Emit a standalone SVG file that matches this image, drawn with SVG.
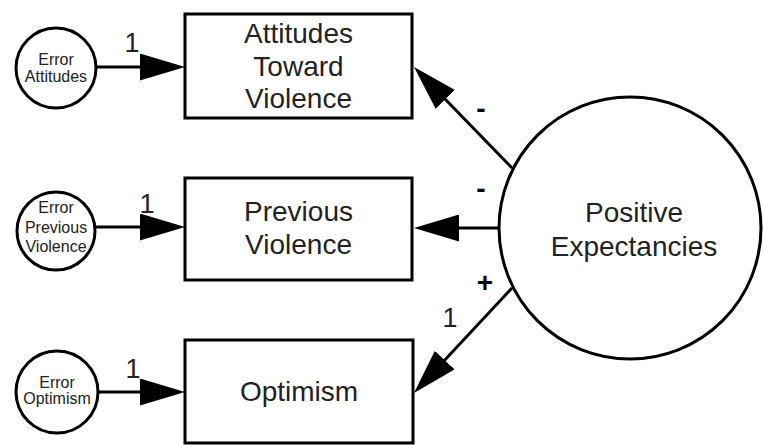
<svg xmlns="http://www.w3.org/2000/svg" width="764" height="445" viewBox="0 0 764 445">
  <style>
    .box { fill: #ffffff; stroke: #000000; stroke-width: 3; }
    .ring { fill: #ffffff; stroke: #000000; stroke-width: 3; }
    .edge { fill: none; stroke: #000000; stroke-width: 3; marker-end: url(#head); }
    .big { font-family: "Liberation Sans", Arial, sans-serif; font-size: 28px; fill: #222222; text-anchor: middle; }
    .small { font-family: "Liberation Sans", Arial, sans-serif; font-size: 16px; fill: #222222; text-anchor: middle; }
    .lbl { font-family: "Liberation Sans", Arial, sans-serif; font-size: 27px; fill: #222222; text-anchor: middle; }
    .sign { font-family: "Liberation Sans", Arial, sans-serif; font-size: 28px; font-weight: bold; fill: #000000; text-anchor: middle; }
  </style>
  <defs>
    <marker id="head" viewBox="0 0 45 27" refX="35" refY="13.5" markerWidth="45" markerHeight="27" markerUnits="userSpaceOnUse" orient="auto">
      <path d="M0,0 L45,13.5 L0,27 z" fill="#000000"/>
    </marker>
  </defs>
  <rect width="764" height="445" fill="#ffffff"/>

  <!-- connectors -->
  <g id="connectors">
    <line class="edge" x1="96" y1="67" x2="175" y2="67"/>
    <line class="edge" x1="96" y1="227" x2="175" y2="227"/>
    <line class="edge" x1="97" y1="392" x2="175" y2="392"/>
    <line class="edge" x1="512" y1="168" x2="420.97" y2="74.18"/>
    <line class="edge" x1="498" y1="228" x2="424" y2="228"/>
    <line class="edge" x1="512" y1="288" x2="420.8" y2="385.7"/>
    <text class="lbl" x="132" y="52">1</text>
    <text class="lbl" x="147" y="213">1</text>
    <text class="lbl" x="133" y="378">1</text>
    <text class="lbl" x="450" y="327">1</text>
    <text class="sign" x="481" y="118">-</text>
    <text class="sign" x="481" y="198">-</text>
    <text class="sign" x="485" y="292">+</text>
  </g>

  <!-- observed variables -->
  <g id="attitudes">
    <rect class="box" x="185" y="14" width="227" height="104"/>
    <text class="big" x="298.5" y="43">Attitudes</text>
    <text class="big" x="298.5" y="76">Toward</text>
    <text class="big" x="298.5" y="108">Violence</text>
  </g>
  <g id="previous-violence">
    <rect class="box" x="185" y="178" width="227" height="102"/>
    <text class="big" x="298.5" y="221">Previous</text>
    <text class="big" x="298.5" y="254">Violence</text>
  </g>
  <g id="optimism">
    <rect class="box" x="185" y="340" width="228" height="103"/>
    <text class="big" x="299" y="401">Optimism</text>
  </g>

  <!-- latent factor -->
  <g id="positive-expectancies">
    <circle class="ring" cx="630" cy="228" r="131"/>
    <text class="big" x="634" y="222">Positive</text>
    <text class="big" x="634" y="256">Expectancies</text>
  </g>

  <!-- error terms -->
  <g id="error-attitudes">
    <circle class="ring" cx="56" cy="68" r="40"/>
    <text class="small" x="56" y="65">Error</text>
    <text class="small" x="56" y="82">Attitudes</text>
  </g>
  <g id="error-previous-violence">
    <circle class="ring" cx="56" cy="231" r="39"/>
    <text class="small" x="56" y="213">Error</text>
    <text class="small" x="56" y="233">Previous</text>
    <text class="small" x="56" y="252">Violence</text>
  </g>
  <g id="error-optimism">
    <circle class="ring" cx="57" cy="392" r="41"/>
    <text class="small" x="57" y="388">Error</text>
    <text class="small" x="57" y="404">Optimism</text>
  </g>
</svg>
